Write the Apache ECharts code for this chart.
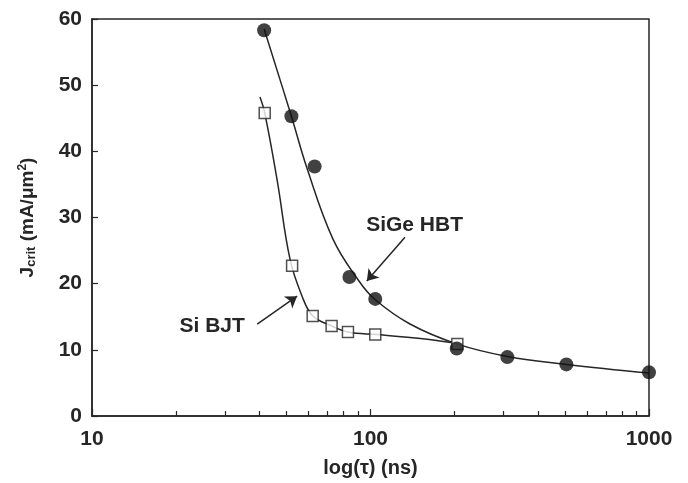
<!DOCTYPE html>
<html>
<head>
<meta charset="utf-8">
<script src="https://cdn.jsdelivr.net/npm/echarts@6/dist/echarts.min.js"></script>
<style>
html, body { margin: 0; background: #fff; }
#chart { width: 688px; height: 483px; }
</style>
</head>
<body>
<div id="chart"></div>
<script>
// measured points (tau in ns, Jcrit in mA/um^2)
const sigeTau = [41.5, 52, 63, 84, 104, 204, 310, 505, 1000]
const sigeJ = [58.3, 45.3, 37.7, 21.0, 17.7, 10.2, 8.9, 7.8, 6.6]
const bjtTau = [41.7, 52.3, 62, 72.5, 83, 104, 205]
const bjtJ = [45.8, 22.7, 15.1, 13.6, 12.7, 12.3, 10.9]

// fitted curves
const sigeFitTau = [41.5, 52, 59.2, 73.4, 90.2, 103.8, 138.6, 204, 310, 505, 1000]
const sigeFitJ = [58.5, 45.3, 37.4, 26.7, 20.6, 17.6, 13.9, 10.9, 9.0, 7.8, 6.5]
const bjtFitTau = [40.1, 41.7, 46.2, 51.4, 56.8, 62.1, 72.6, 83, 105.5, 160, 215]
const bjtFitJ = [48.2, 45.8, 35.7, 23.7, 18.1, 15.1, 13.6, 12.7, 12.3, 11.6, 10.8]

const yTicks = [0, 10, 20, 30, 40, 50, 60]

const ink = '#262626'
const font = 'Liberation Sans, Arial, sans-serif'

const zip = (xs, ys) => xs.map((x, i) => [x, ys[i]])

const chart = echarts.init(document.getElementById('chart'))

chart.setOption({
  backgroundColor: '#ffffff',
  animation: false,
  grid: {
    left: 92,
    right: 39,
    top: 19,
    bottom: 66,
    show: true,
    borderColor: ink,
    borderWidth: 1.5
  },
  xAxis: {
    type: 'log',
    logBase: 10,
    min: 10,
    max: 1000,
    name: 'log(τ) (ns)',
    nameLocation: 'middle',
    nameGap: 42,
    nameTextStyle: { color: ink, fontFamily: font, fontWeight: 'bold', fontSize: 20 },
    axisLine: { lineStyle: { color: ink, width: 1.5 } },
    axisTick: { inside: true, length: 7, lineStyle: { color: ink, width: 1.2 } },
    minorTick: { show: true, splitNumber: 9, length: 5, lineStyle: { color: ink, width: 1.2 } },
    axisLabel: {
      color: ink, fontFamily: font, fontWeight: 'bold', fontSize: 21, margin: 13,
      formatter: v => String(v)
    },
    splitLine: { show: false }
  },
  yAxis: {
    type: 'value',
    min: 0,
    max: 60,
    interval: 10,
    name: '{a|J}{s|crit}{a| (mA/μm}{p|2}{a|)}',
    nameLocation: 'middle',
    nameGap: 54,
    nameTextStyle: {
      color: ink,
      fontFamily: font,
      fontWeight: 'bold',
      fontSize: 19,
      rich: {
        a: { fontFamily: font, fontWeight: 'bold', fontSize: 19, color: ink },
        s: { fontFamily: font, fontWeight: 'bold', fontSize: 13, color: ink, verticalAlign: 'bottom', padding: [8, 0, 0, 0] },
        p: { fontFamily: font, fontWeight: 'bold', fontSize: 12, color: ink, verticalAlign: 'top', padding: [0, 0, 9, 0] }
      }
    },
    axisLine: { lineStyle: { color: ink, width: 1.5 } },
    axisTick: { inside: true, length: 6, lineStyle: { color: ink, width: 1.2 } },
    axisLabel: {
      color: ink, fontFamily: font, fontWeight: 'bold', fontSize: 21, margin: 10,
      formatter: v => yTicks.includes(v) ? String(v) : ''
    },
    splitLine: { show: false }
  },
  series: [
    {
      name: 'SiGe HBT fit',
      type: 'line',
      data: zip(sigeFitTau, sigeFitJ),
      smooth: 0.4,
      showSymbol: false,
      lineStyle: { color: ink, width: 1.5 },
      z: 2,
      markLine: {
        silent: true,
        symbol: ['none', 'arrow'],
        symbolSize: 11,
        lineStyle: { color: ink, width: 1.5, type: 'solid' },
        label: { show: false },
        data: [
          [{ coord: [133, 27.0] }, { coord: [97, 20.4] }],
          [{ coord: [39.2, 13.9] }, { coord: [54.5, 18.1] }]
        ]
      },
      markPoint: {
        silent: true,
        symbol: 'circle',
        symbolSize: 1,
        itemStyle: { color: 'transparent' },
        label: {
          show: true,
          position: 'inside',
          color: ink,
          fontFamily: font,
          fontWeight: 'bold',
          fontSize: 21
        },
        data: [
          { coord: [144, 28.8], label: { formatter: 'SiGe HBT' } },
          { coord: [27, 13.6], label: { formatter: 'Si BJT' } }
        ]
      }
    },
    {
      name: 'Si BJT fit',
      type: 'line',
      data: zip(bjtFitTau, bjtFitJ),
      smooth: 0.4,
      showSymbol: false,
      lineStyle: { color: ink, width: 1.5 },
      z: 2
    },
    {
      name: 'Si BJT',
      type: 'scatter',
      data: zip(bjtTau, bjtJ),
      symbol: 'rect',
      symbolSize: 11,
      itemStyle: { color: '#ffffff', borderColor: ink, borderWidth: 1.5 },
      z: 3
    },
    {
      name: 'SiGe HBT',
      type: 'scatter',
      data: zip(sigeTau, sigeJ),
      symbol: 'circle',
      symbolSize: 14,
      itemStyle: { color: '#111111' },
      z: 4
    }
  ]
})
</script>
</body>
</html>
